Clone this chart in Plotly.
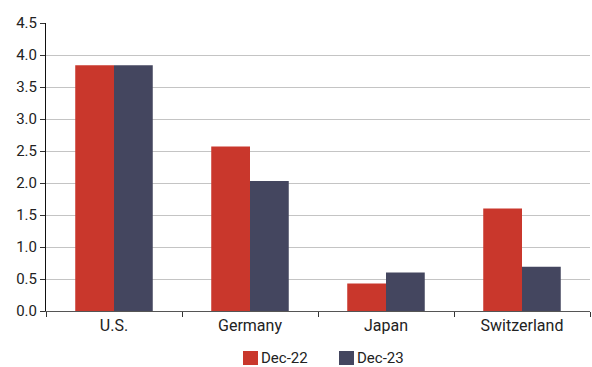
import plotly.graph_objects as go

categories = ["U.S.", "Germany", "Japan", "Switzerland"]
dec22 = [3.84, 2.57, 0.43, 1.60]
dec23 = [3.84, 2.03, 0.60, 0.69]
y_ticks = [0.0, 0.5, 1.0, 1.5, 2.0, 2.5, 3.0, 3.5, 4.0, 4.5]
series_names = ["Dec-22", "Dec-23"]

RED = "#C9372C"
NAVY = "#44465F"
FONT = "Roboto, Inter, sans-serif"
TEXT = "#222222"

W, H = 592, 367
ML, MR, MT, MB = 46, 2, 23, 56
PW, PH = W - ML - MR, H - MT - MB

fig = go.Figure()
for name, vals, col in zip(series_names, [dec22, dec23], [RED, NAVY]):
    fig.add_trace(go.Bar(name=name, x=categories, y=vals, marker_color=col,
                         marker_line_width=0, showlegend=False))

# legend drawn as swatches + labels centred under the plot
def px_x(p):
    return (p - ML) / PW

def px_y(p):
    return (H - MB - p) / PH

swatch_left = [243, 339]
for name, col, left in zip(series_names, [RED, NAVY], swatch_left):
    fig.add_shape(type="rect", xref="paper", yref="paper",
                  x0=px_x(left), x1=px_x(left + 15),
                  y0=px_y(365), y1=px_y(351),
                  fillcolor=col, line_width=0)
    fig.add_annotation(xref="paper", yref="paper", x=px_x(left + 17), y=px_y(358),
                       text=name, showarrow=False, xanchor="left", yanchor="middle",
                       font=dict(family=FONT, size=15, color=TEXT),
                       borderpad=0)

fig.update_layout(
    width=W, height=H,
    margin=dict(l=ML, r=MR, t=MT, b=MB),
    paper_bgcolor="white", plot_bgcolor="white",
    barmode="group", bargap=0.43, bargroupgap=0,
    font=dict(family=FONT, size=15, color=TEXT),
    showlegend=False,
)
fig.update_xaxes(
    showline=True, linecolor="#555555", linewidth=1,
    ticks="outside", tickson="boundaries", ticklen=5, tickcolor="#333333",
    showgrid=False, tickfont=dict(size=16),
)
fig.update_yaxes(
    range=[0, 4.5], tickvals=y_ticks, ticktext=[f"{v:.1f}" for v in y_ticks],
    showline=True, linecolor="#111111", linewidth=1,
    ticks="outside", ticklen=5, tickcolor="#333333",
    showgrid=True, gridcolor="#C4C4C4", gridwidth=1, zeroline=False,
    tickfont=dict(size=15),
)

fig.write_html("out.html")
